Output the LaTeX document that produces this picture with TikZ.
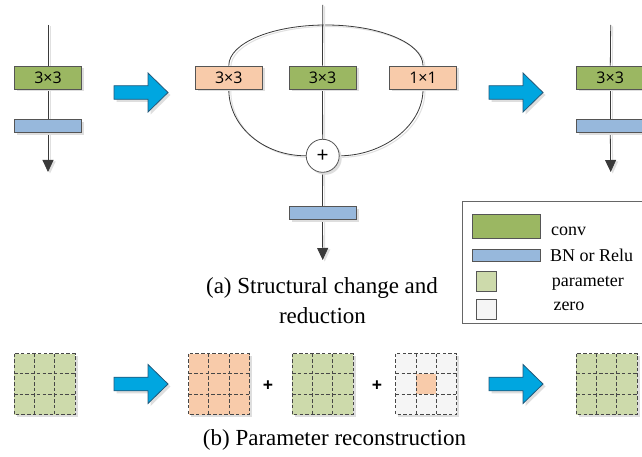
\documentclass[tikz,border=0pt]{standalone}
\usepackage{fontspec}
\setmainfont{Liberation Serif}
\newfontfamily\boxfont{Open Sans}
\usetikzlibrary{arrows.meta,shadows,backgrounds}

\definecolor{convgreen}{HTML}{9BB762}
\definecolor{bnblue}{HTML}{97B8DC}
\definecolor{peach}{HTML}{F8CBAA}
\definecolor{paramgreen}{HTML}{CDDAAB}
\definecolor{zerofill}{HTML}{F5F5F5}
\definecolor{bigblue}{HTML}{00A6E0}
\definecolor{bigblueedge}{HTML}{23597A}
\definecolor{linegray}{HTML}{3A3A3A}
\definecolor{edgegray}{HTML}{555555}

\tikzset{
  boxshadow/.style={drop shadow={shadow xshift=2.5pt,shadow yshift=-2.5pt,fill=black!13,opacity=1}},
  block/.style={draw=edgegray, line width=0.8pt, minimum width=67pt, inner sep=0pt,
    font=\boxfont\fontsize{16}{16}\selectfont, boxshadow},
  convbox/.style={block, minimum height=23pt, fill=convgreen},
  peachbox/.style={block, minimum height=23pt, fill=peach},
  bnbox/.style={block, minimum height=13.5pt, fill=bnblue},
  sumnode/.style={circle, draw=edgegray, line width=0.8pt, fill=white, minimum size=33pt,
    inner sep=0pt, font=\boxfont\fontsize{21}{21}\selectfont, boxshadow},
  flow/.style={draw=linegray, line width=0.8pt,
    preaction={draw=black!12, line width=1pt, transform canvas={xshift=2pt,yshift=-1.5pt}}},
  flowend/.style={flow, -{Triangle[width=11pt,length=12pt]}},
  bigarrow/.style={fill=bigblue, draw=bigblueedge, line width=0.8pt, line join=miter, boxshadow},
  celledge/.style={draw=black!72, line width=0.8pt, dash pattern=on 3.5pt off 2.2pt},
  caption/.style={anchor=base, font=\fontsize{23}{23}\selectfont, inner sep=0pt},
  legtext/.style={anchor=base west, font=\fontsize{18}{18}\selectfont, inner sep=0pt},
  swatch/.style={draw=edgegray, line width=0.8pt},
  plussign/.style={font=\boxfont\bfseries\fontsize{18}{18}\selectfont, inner sep=0pt},
  fatarrow/.pic={
    \path[bigarrow] (0,-6.8) -- (34,-6.8) -- (34,-19.5) -- (54,0) -- (34,19.5) -- (34,6.8) -- (0,6.8) -- cycle;
  },
}

% 3x3 kernel of dashed cells: centre x, centre y, cell colour, centre-cell colour
\newcommand\kernelgrid[4]{%
  \fill[black!13] (#1-28,#2-28) rectangle (#1+33,#2+33);
  \fill[#3] (#1-30.5,#2-30.5) rectangle (#1+30.5,#2+30.5);
  \fill[#4] (#1-10.17,#2-10.17) rectangle (#1+10.17,#2+10.17);
  \draw[celledge] (#1-30.5,#2-30.5) rectangle (#1+30.5,#2+30.5);
  \draw[celledge] (#1-10.17,#2-30.5) -- (#1-10.17,#2+30.5);
  \draw[celledge] (#1+10.17,#2-30.5) -- (#1+10.17,#2+30.5);
  \draw[celledge] (#1-30.5,#2-10.17) -- (#1+30.5,#2-10.17);
  \draw[celledge] (#1-30.5,#2+10.17) -- (#1+30.5,#2+10.17);
}

\begin{document}
\begin{tikzpicture}[x=1pt,y=-1pt]
\clip (0,0) rectangle (642,457);

% ---- blocks
\coordinate (lt) at (48,25);
\node[convbox] (lc) at (48,77.5) {3×3};
\node[bnbox] (lb) at (48,126) {};
\coordinate (le) at (48,172);

\coordinate (mt) at (322.7,5);
\coordinate (arctop) at (325.9,25);
\node[peachbox] (ml) at (228.8,77.5) {3×3};
\node[convbox] (mc) at (322.5,77.5) {3×3};
\node[peachbox] (mr) at (423,77.5) {1×1};
\node[sumnode] (sum) at (322.7,155.8) {+};
\node[bnbox] (mb) at (322.5,213) {};
\coordinate (me) at (322.7,260);

\coordinate (rt) at (610.7,25);
\node[convbox] (rc) at (610.2,77.5) {3×3};
\node[bnbox] (rb) at (610.2,126) {};
\coordinate (re) at (610.7,172);

% ---- connections, kept behind the blocks
\begin{scope}[on background layer]
\fill[white] (0,0) rectangle (642,457);
\draw[flow] (lt) -- (lc);
\draw[flow] (lc) -- (lb);
\draw[flowend] (lb) -- (le);

\draw[flow] (ml.north) .. controls +(0,-22.6) and +(-53.5,0) .. (arctop)
            .. controls +(53.5,0) and +(0,-22.6) .. (mr.north);
\draw[flow] (ml.south) .. controls +(0,37) and +(-42.5,0) .. (sum.west);
\draw[flow] (mr.south) .. controls +(0,37) and +(42.5,0) .. (sum.east);
\draw[flow] (mt) -- (mc);
\draw[flow] (mc) -- (sum);
\draw[flow] (sum) -- (mb);
\draw[flowend] (mb) -- (me);

\draw[flow] (rt) -- (rc);
\draw[flow] (rc) -- (rb);
\draw[flowend] (rb) -- (re);
\end{scope}

\pic at (114,92.5) {fatarrow};
\pic at (489,92.5) {fatarrow};

% ---- legend
\draw[draw=black!60, line width=0.8pt] (462.7,201.7) rectangle (680,323);
\filldraw[swatch, fill=convgreen] (472.7,214.3) rectangle (540.7,238.3);
\filldraw[swatch, fill=bnblue] (472.7,249) rectangle (540.7,261.7);
\filldraw[swatch, fill=paramgreen] (476,271.5) rectangle (496.7,291.5);
\filldraw[swatch, fill=zerofill] (476,299) rectangle (496.7,319);
\node[legtext] (lg1) at (551,235) {conv};
\node[legtext] (lg2) at (550,261.5) {BN or Relu};
\node[legtext] (lg3) at (551.7,286) {parameter};
\node[legtext] (lg4) at (553.3,310) {zero};

% ---- captions
\node[caption] (capa1) at (322,293.3) {(a) Structural change and};
\node[caption] (capa2) at (322.5,323.3) {reduction};
\node[caption] (capb) at (334.5,445) {(b) Parameter reconstruction};

% ---- kernel reconstruction
\kernelgrid{44.5}{384}{paramgreen}{paramgreen}
\pic at (114,384) {fatarrow};
\kernelgrid{219}{384}{peach}{peach}
\node[plussign] (p1) at (268,386) {+};
\kernelgrid{322.7}{384}{paramgreen}{paramgreen}
\node[plussign] (p2) at (377,386) {+};
\kernelgrid{426.3}{384}{zerofill}{peach}
\pic at (489,384) {fatarrow};
\kernelgrid{606.7}{384}{paramgreen}{paramgreen}
\end{tikzpicture}
\end{document}
